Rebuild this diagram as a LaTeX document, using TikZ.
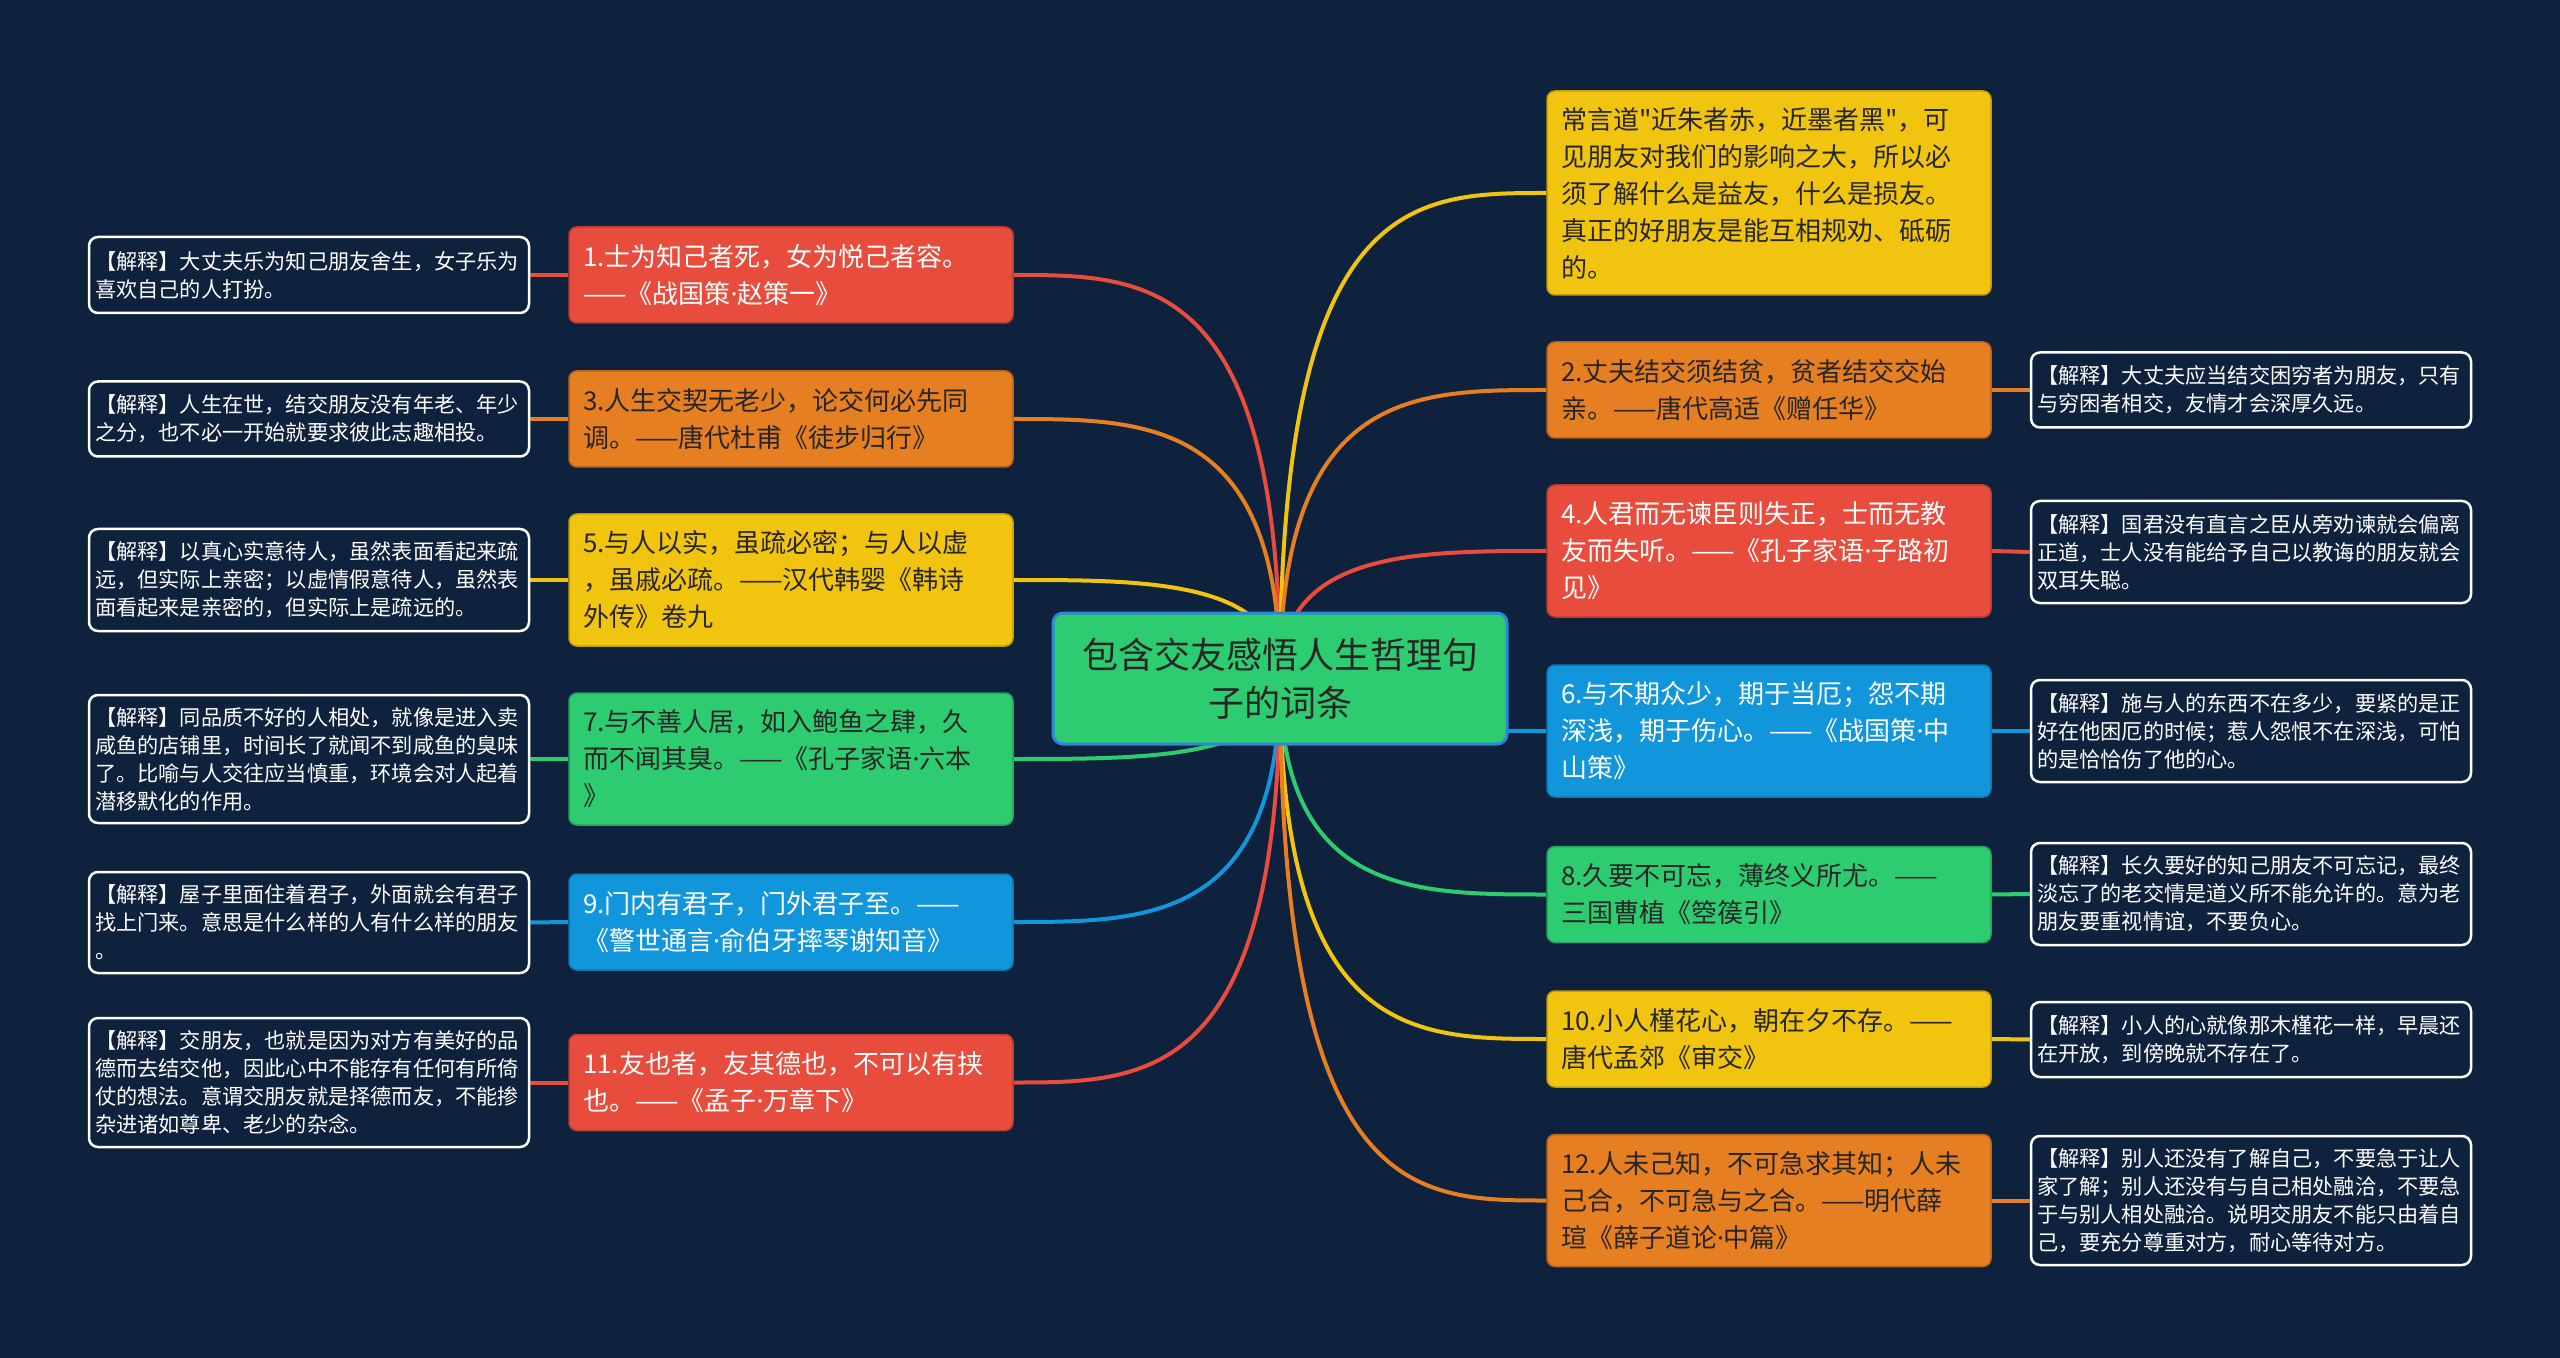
\documentclass[tikz,border=0pt]{standalone}
\usepackage{fontspec}
\newfontfamily\cjk{Noto Sans CJK SC}
\newfontfamily\dotfont{Noto Sans}
\newcommand\zdot{{\dotfont ·}}
\usetikzlibrary{calc,backgrounds}
\newdimen\px \px=0.75pt
\definecolor{bg}{HTML}{0E213D}
\definecolor{cred}{HTML}{E74C3C}
\definecolor{corange}{HTML}{E67E22}
\definecolor{cyellow}{HTML}{F1C40F}
\definecolor{cgreen}{HTML}{2ECC71}
\definecolor{cblue}{HTML}{1296DB}
\definecolor{rootborder}{HTML}{2E86DE}
\definecolor{dtext}{HTML}{262626}
\begin{document}
\begin{tikzpicture}[x=0.75pt,y=-0.75pt,
  mbox/.style={rounded corners=8\px, fill=#1, draw=#1!80!black, line width=1.5\px,
    minimum width=444\px, text width=416\px, align=left, inner xsep=0pt, inner ysep=0pt,
    font=\cjk\fontsize{19.5pt}{27.75pt}\selectfont},
  ebox/.style={rounded corners=9\px, fill=bg, draw=white, line width=2.5\px, text=white,
    minimum width=440\px, text width=428\px, align=left, inner xsep=0pt, inner ysep=0pt,
    font=\cjk\fontsize{15.9pt}{21pt}\selectfont},
  rootbox/.style={rounded corners=10\px, fill=cgreen, draw=rootborder, line width=3\px, text=dtext,
    minimum width=454\px, minimum height=131\px, text width=430\px, align=center, inner sep=0pt,
    font=\cjk\fontsize{27pt}{36pt}\selectfont},
  conn/.style={draw=#1, line width=4\px},
  lt/.style={text=white}, dt/.style={text=dtext}
]
\useasboundingbox (0,0) rectangle (2560,1358);

% root
\node[rootbox] (root) at (1280,678.5) {包含交友感悟人生哲理句\\子的词条};

% left main boxes
\node[mbox=cred,lt,minimum height=96\px] (b1) at (791,275) {1.士为知己者死，女为悦己者容。\\——《战国策\zdot 赵策一》};
\node[mbox=corange,dt,minimum height=96\px] (b3) at (791,419) {3.人生交契无老少，论交何必先同\\调。——唐代杜甫《徒步归行》};
\node[mbox=cyellow,dt,minimum height=132\px] (b5) at (791,580) {5.与人以实，虽疏必密；与人以虚\\，虽戚必疏。——汉代韩婴《韩诗\\外传》卷九};
\node[mbox=cgreen,dt,minimum height=132\px] (b7) at (791,759) {7.与不善人居，如入鲍鱼之肆，久\\而不闻其臭。——《孔子家语\zdot 六本\\》};
\node[mbox=cblue,lt,minimum height=96\px] (b9) at (791,922) {9.门内有君子，门外君子至。——\\《警世通言\zdot 俞伯牙摔琴谢知音》};
\node[mbox=cred,lt,minimum height=96\px] (b11) at (791,1082.5) {11.友也者，友其德也，不可以有挟\\也。——《孟子\zdot 万章下》};

% left explanation boxes
\node[ebox,minimum height=76\px] (e1) at (309,275) {【解释】大丈夫乐为知己朋友舍生，女子乐为\\喜欢自己的人打扮。};
\node[ebox,minimum height=75\px] (e3) at (309,419) {【解释】人生在世，结交朋友没有年老、年少\\之分，也不必一开始就要求彼此志趣相投。};
\node[ebox,minimum height=102\px] (e5) at (309,580) {【解释】以真心实意待人，虽然表面看起来疏\\远，但实际上亲密；以虚情假意待人，虽然表\\面看起来是亲密的，但实际上是疏远的。};
\node[ebox,minimum height=128\px] (e7) at (309,759) {【解释】同品质不好的人相处，就像是进入卖\\咸鱼的店铺里，时间长了就闻不到咸鱼的臭味\\了。比喻与人交往应当慎重，环境会对人起着\\潜移默化的作用。};
\node[ebox,minimum height=101\px] (e9) at (309,922.5) {【解释】屋子里面住着君子，外面就会有君子\\找上门来。意思是什么样的人有什么样的朋友\\。};
\node[ebox,minimum height=129\px] (e11) at (309,1082.5) {【解释】交朋友，也就是因为对方有美好的品\\德而去结交他，因此心中不能存有任何有所倚\\仗的想法。意谓交朋友就是择德而友，不能掺\\杂进诸如尊卑、老少的杂念。};

% right main boxes
\node[mbox=cyellow,dt,minimum height=204\px] (t0) at (1769,193) {常言道"近朱者赤，近墨者黑"，可\\见朋友对我们的影响之大，所以必\\须了解什么是益友，什么是损友。\\真正的好朋友是能互相规劝、砥砺\\的。};
\node[mbox=corange,dt,minimum height=96\px] (b2) at (1769,390) {2.丈夫结交须结贫，贫者结交交始\\亲。——唐代高适《赠任华》};
\node[mbox=cred,lt,minimum height=132\px] (b4) at (1769,551) {4.人君而无谏臣则失正，士而无教\\友而失听。——《孔子家语\zdot 子路初\\见》};
\node[mbox=cblue,lt,minimum height=132\px] (b6) at (1769,731) {6.与不期众少，期于当厄；怨不期\\深浅，期于伤心。——《战国策\zdot 中\\山策》};
\node[mbox=cgreen,dt,minimum height=96\px] (b8) at (1769,894.5) {8.久要不可忘，薄终义所尤。——\\三国曹植《箜篌引》};
\node[mbox=cyellow,dt,minimum height=96\px] (b10) at (1769,1039) {10.小人槿花心，朝在夕不存。——\\唐代孟郊《审交》};
\node[mbox=corange,dt,minimum height=132\px] (b12) at (1769,1200.5) {12.人未己知，不可急求其知；人未\\己合，不可急与之合。——明代薛\\瑄《薛子道论\zdot 中篇》};

% right explanation boxes
\node[ebox,minimum height=75\px] (e2) at (2251,390) {【解释】大丈夫应当结交困穷者为朋友，只有\\与穷困者相交，友情才会深厚久远。};
\node[ebox,minimum height=102\px] (e4) at (2251,552) {【解释】国君没有直言之臣从旁劝谏就会偏离\\正道，士人没有能给予自己以教诲的朋友就会\\双耳失聪。};
\node[ebox,minimum height=102\px] (e6) at (2251,731) {【解释】施与人的东西不在多少，要紧的是正\\好在他困厄的时候；惹人怨恨不在深浅，可怕\\的是恰恰伤了他的心。};
\node[ebox,minimum height=102\px] (e8) at (2251,894) {【解释】长久要好的知己朋友不可忘记，最终\\淡忘了的老交情是道义所不能允许的。意为老\\朋友要重视情谊，不要负心。};
\node[ebox,minimum height=75\px] (e10) at (2251,1039.5) {【解释】小人的心就像那木槿花一样，早晨还\\在开放，到傍晚就不存在了。};
\node[ebox,minimum height=129\px] (e12) at (2251,1200.5) {【解释】别人还没有了解自己，不要急于让人\\家了解；别人还没有与自己相处融洽，不要急\\于与别人相处融洽。说明交朋友不能只由着自\\己，要充分尊重对方，耐心等待对方。};

\begin{scope}[on background layer]
\fill[bg] (0,0) rectangle (2560,1358);
% root to left boxes
\foreach \b/\c in {b1/cred,b3/corange,b5/cyellow,b7/cgreen,b9/cblue,b11/cred}{
  \draw[conn=\c] (root.center) .. controls (root.center |- \b.east) and ($(root.center |- \b.east)!0.5!(\b.east)$) .. (\b.east);
}
% root to right boxes
\foreach \b/\c in {t0/cyellow,b2/corange,b4/cred,b6/cblue,b8/cgreen,b10/cyellow,b12/corange}{
  \draw[conn=\c] (root.center) .. controls (root.center |- \b.west) and ($(root.center |- \b.west)!0.5!(\b.west)$) .. (\b.west);
}
% explanation links
\draw[conn=cred] (b1.west) -- (e1.east);
\draw[conn=corange] (b3.west) -- (e3.east);
\draw[conn=cyellow] (b5.west) -- (e5.east);
\draw[conn=cgreen] (b7.west) -- (e7.east);
\draw[conn=cblue] (b9.west) -- (e9.east);
\draw[conn=cred] (b11.west) -- (e11.east);
\draw[conn=corange] (b2.east) -- (e2.west);
\draw[conn=cred] (b4.east) -- (e4.west);
\draw[conn=cblue] (b6.east) -- (e6.west);
\draw[conn=cgreen] (b8.east) -- (e8.west);
\draw[conn=cyellow] (b10.east) -- (e10.west);
\draw[conn=corange] (b12.east) -- (e12.west);
\end{scope}
\end{tikzpicture}
\end{document}
